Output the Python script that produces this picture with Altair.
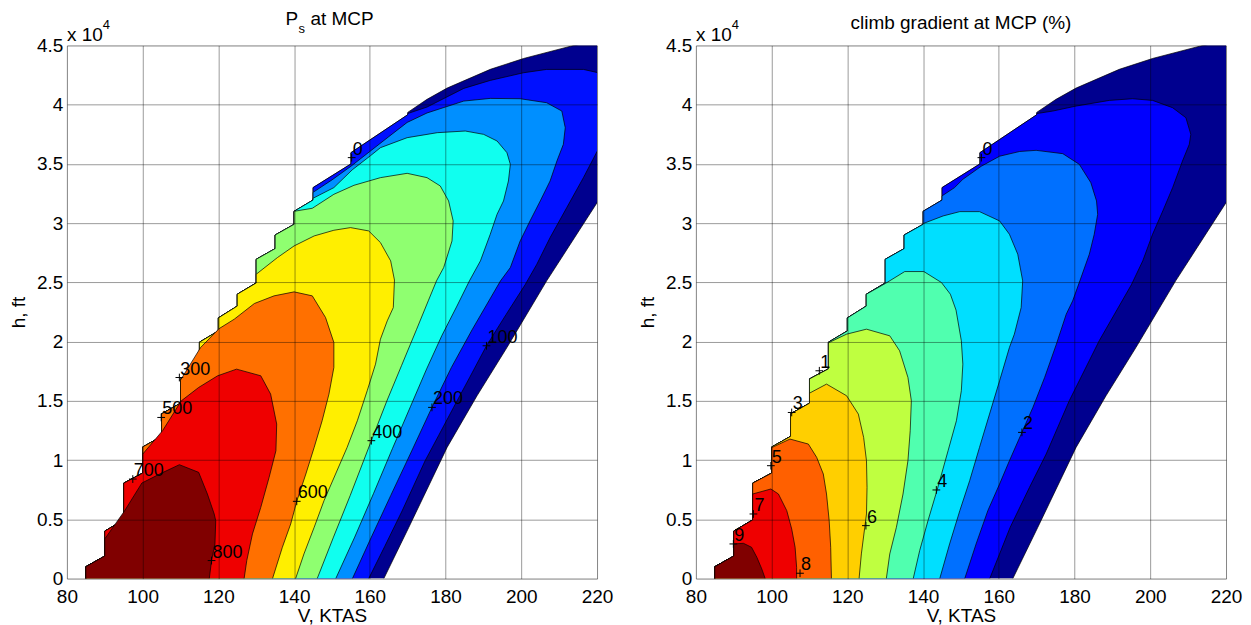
import altair as alt
import pandas as pd

FONT = "Liberation Sans"

# ---------------- shared flight envelope (V in KTAS, h in ft) ----------------
# left staircase + top edge
ENV_V = [85, 85, 90, 90, 95, 95, 100, 100, 105, 105, 110, 110, 115, 115, 120, 120,
         125, 125, 130, 130, 135, 135, 140, 140, 145, 145, 155, 155, 170, 170,
         175.1, 180.4, 191.8, 200.6, 213.8, 228]
ENV_H = [0, 1000, 1900, 4000, 4950, 8050, 8900, 11100, 12000, 13900, 14800, 16850,
         17700, 19950, 20900, 22000, 23000, 24000, 24950, 26950, 27850, 29000, 29900,
         31000, 31950, 33000, 35000, 35950, 39150, 39350, 40450, 41400, 42980, 43900,
         45000, 45800]
# zero contour (right edge of the filled area), top-right down to h = 0
EDGE_V = [228, 220.3, 206.7, 196.2, 188.3, 180.4, 170.3, 163.7]
EDGE_H = [35700, 31870, 25130, 19500, 15430, 11070, 4330, 0]

# ---------------- left panel: Ps at MCP ----------------
PS_COLORS = ["#00008F", "#0010FF", "#008FFF", "#10FFEF", "#8FFF70",
             "#FFEF00", "#FF7000", "#EF0000", "#800000"]
PS100_V = [170, 175.1, 184.8, 191.8, 200.6, 206.7, 216.4, 220.3, 224, 225.5, 224, 220.3,
           216.4, 212.0, 207.6, 204.1, 201.0, 196.0, 190.8, 186.4, 182.1, 178.2, 174.6,
           168.5, 163.9, 159.7]
PS100_H = [39250, 39800, 41374, 42048, 42695, 42976, 42976, 42695, 41500, 39500, 37300,
           36230, 33841, 31311, 28781, 26533, 24800, 22300, 19650, 17000, 14444, 12100,
           9950, 5700, 2700, 0]
PS200_V = [145, 150, 155, 160, 165, 169.85, 175.1, 184.8, 191.8, 199.7, 206.7, 210.7,
           211.6, 211.1, 209.4, 207.6, 205.0, 202.3, 199.7, 197.1, 194.5, 187.0, 181.5,
           176.4, 170.8, 165.5, 160.4, 155.4]
PS200_H = [32600, 33650, 34800, 36050, 37300, 38500, 39300, 40305, 40530, 40502, 40165,
           39462, 38057, 36652, 35246, 33560, 31873, 30187, 28500, 26252, 25128, 21000,
           17800, 14450, 10600, 7000, 3500, 0]
PS300_V = [145, 150.5, 155.35, 160.2, 162.8, 169.85, 177.8, 185.2, 190.05, 193.6, 196.2,
           197.1, 196.6, 195.3, 193.6, 191.8, 189.2, 186.3, 183, 179, 175, 170.7, 166,
           161, 156, 151]
PS300_H = [32100, 33000, 34500, 35700, 36370, 37214, 37636, 37776, 37495, 36933, 35949,
           34965, 33560, 31873, 30749, 29063, 26814, 25128, 23000, 20500, 17700, 14500,
           11000, 7200, 3500, 0]
PS400_V = [140, 144.8, 150.5, 155.8, 162.8, 169.85, 175.1, 178.6, 180.8, 182.0, 181.7,
           179.5, 177.6, 175.5, 172.3, 168.4, 164.5, 160.4, 154.8, 150.4, 146.1]
PS400_H = [31000, 31255, 32435, 33194, 33841, 34206, 33841, 33138, 31873, 30187, 28500,
           26252, 25128, 23500, 21000, 18000, 15000, 11640, 7000, 3500, 0]
PS500_V = [130, 135.6, 140, 145.3, 150.5, 154.9, 159.7, 162.8, 165.5, 166.5, 166.2,
           164.6, 162.8, 161.5, 159.3, 156.7, 154.0, 150.95, 147.9, 145.3, 142.6, 140.4]
PS500_H = [25690, 27095, 28079, 28922, 29400, 29625, 29344, 28360, 26814, 25200, 22879,
           21755, 20209, 18101, 15852, 13323, 11074, 8825, 6577, 4329, 2080, 0]
PS600_V = [110, 115.3, 120.2, 124.2, 129.5, 134.7, 140, 144.8, 148.3, 150.5, 150.5, 149.2,
           147.4, 145.3, 143.1, 140.7, 139.1, 136.9, 134.3]
PS600_H = [16750, 19500, 21100, 21895, 23216, 23863, 24200, 23863, 22036, 19928, 17820,
           15571, 13323, 11074, 8826, 6521, 4610, 2642, 0]
PS700_V = [100, 105.3, 110.2, 114.8, 119.8, 124.8, 131.2, 133.8, 135.4, 135.2, 133.4,
           131.2, 129.0, 127.5, 126.8]
PS700_H = [10500, 12500, 15000, 16133, 17117, 17679, 17117, 15571, 13042, 10793, 8545,
           6015, 3766, 1518, 0]
PS800_V = [90, 95.2, 99.8, 104.85, 109.7, 114.8, 117.1, 118.9, 119.3, 119.1, 118.2, 117.6]
PS800_H = [3350, 5700, 8067, 8882, 9613, 8966, 7139, 5453, 4890, 2923, 1518, 0]
PS_LAB_V = [155.2, 190.8, 176.4, 109.7, 160.4, 104.9, 140.7, 97.4, 118.2]
PS_LAB_H = [35530, 19650, 14450, 16970, 11640, 13600, 6520, 8400, 1520]
PS_LAB_T = ["0", "100", "200", "300", "400", "500", "600", "700", "800"]

# ---------------- right panel: climb gradient at MCP (%) ----------------
CG_COLORS = ["#00008F", "#0000FF", "#0070FF", "#00DFFF", "#50FFAF",
             "#BFFF40", "#FFCF00", "#FF6000", "#EF0000", "#800000"]
CG1_V = [170, 174.25, 180.4, 189.2, 195.3, 200.6, 205.9, 209.4, 210.7, 210.3, 208.5,
         205.9, 203.3, 200.6, 198.0, 195.0, 186.5, 178.6, 172.5, 168.1, 163.0, 157.6]
CG1_H = [39250, 39462, 39884, 40361, 40502, 40361, 39743, 38900, 37495, 36652, 35246,
         32998, 31030, 29063, 26814, 24800, 20069, 15009, 10512, 7701, 4329, 0]
CG2_V = [145, 148.3, 150.5, 155.35, 160.2, 165.5, 169.85, 176.9, 181.25, 184.3, 185.8,
         186.1, 185.2, 183.9, 181.4, 179.5, 177.8, 175.2, 172.1, 169.0, 166.1, 162.8,
         160.2, 157.1, 154.0, 151.0]
CG2_H = [32300, 33000, 33700, 34800, 35650, 36050, 36146, 35865, 34965, 33419, 31873,
         30749, 29063, 27376, 25128, 23441, 22317, 19787, 16977, 14447, 12340, 9950,
         7982, 5734, 2923, 0]
CG3_V = [140, 145.3, 149.7, 154.9, 160.2, 162.8, 165.0, 166.3, 165.9, 164.1, 162.8,
         160.2, 157.55, 154.9, 152.3, 149.7, 147.0, 144.4]
CG3_H = [29962, 30609, 30974, 30974, 30187, 29063, 27376, 25128, 22879, 20630, 19506,
         16696, 13885, 11074, 8263, 5734, 2923, 0]
CG4_V = [130, 135.15, 140.2, 144.85, 147.2, 148.7, 150.1, 150.5, 150.1, 148.8, 146.6,
         143.7, 141.3, 139.1, 137.4]
CG4_H = [24900, 25915, 25915, 24987, 24003, 22660, 20069, 18101, 15852, 13323, 10793,
         7476, 4891, 2361, 0]
CG5_V = [115, 119.8, 125.05, 131.2, 133.8, 136.0, 136.9, 136.6, 136.0, 134.7, 132.95,
         131.2, 130.3]
CG5_H = [19900, 20630, 21052, 20490, 19225, 16977, 15009, 12480, 9950, 7139, 4329, 2080, 0]
CG6_V = [110, 114.5, 119.8, 122.9, 124.3, 125.05, 125.2, 125.05, 124.6, 123.7, 123.1]
CG6_H = [15650, 16415, 15431, 13885, 11917, 9950, 7701, 5453, 4329, 2080, 0]
CG7_V = [100, 104.85, 109.7, 111.9, 113.65, 114.5, 115.2, 115.6, 115.8]
CG7_H = [11050, 11777, 11355, 10231, 8826, 7139, 4891, 2642, 0]
CG8_V = [95, 99.8, 101.8, 104.0, 105.3, 106.2, 106.6, 106.6]
CG8_H = [7139, 7561, 7139, 5734, 4188, 2642, 956, 0]
CG9_V = [90, 92.55, 94.7, 96.1, 97.4, 98.3]
CG9_H = [2923, 2979, 2642, 1799, 815, 0]
CG_LAB_V = [155.4, 112.6, 166.1, 105.3, 143.5, 99.8, 124.9, 95.2, 107.5, 89.9]
CG_LAB_H = [35530, 17540, 12340, 14020, 7480, 9528, 4469, 5453, 450, 2923]
CG_LAB_T = ["0", "1", "2", "3", "4", "5", "6", "7", "8", "9"]

X_TICKS = [80, 100, 120, 140, 160, 180, 200, 220]
Y_TICKS = [0, 5000, 10000, 15000, 20000, 25000, 30000, 35000, 40000, 45000]

W, H = 531, 534
PLUS = "M-1,0L1,0M0,-1L0,1"
FS = 19

XS = alt.Scale(domain=[80, 220], nice=False, zero=False)
YS = alt.Scale(domain=[0, 45000], nice=False, zero=False)
common_axis = dict(grid=True, ticks=False, domain=False, gridColor="black",
                   gridOpacity=0.4, gridWidth=1, labelFont=FONT, labelFontSize=FS,
                   labelColor="black", titleFont=FONT, titleFontSize=FS,
                   titleFontWeight="normal", titleColor="black", zindex=1,
                   labelOverlap=False, labelFlush=False)
XAX = alt.Axis(values=X_TICKS, title="V, KTAS", labelPadding=9, titlePadding=0, **common_axis)
YAX = alt.Axis(values=Y_TICKS, title="h, ft", labelExpr="'' + datum.value / 10000",
               labelPadding=4, titlePadding=8, **common_axis)


def enc_xy():
    return dict(x=alt.X("V:Q", scale=XS, axis=XAX), y=alt.Y("h:Q", scale=YS, axis=YAX))


def polygon(vs, hs):
    return pd.DataFrame({"V": vs, "h": hs, "i": list(range(len(vs)))})


def region(cv, ch):
    pre = [(v, h) for v, h in zip(ENV_V, ENV_H) if h < ch[0]]
    vs = [p[0] for p in pre] + list(cv)
    hs = [p[1] for p in pre] + list(ch)
    return polygon(vs, hs)


def band(df, color):
    return alt.Chart(df).mark_line(fill=color, stroke="black", strokeWidth=0.7,
                                   clip=True, strokeJoin="round").encode(
        order="i:Q", **enc_xy())


ANN = pd.DataFrame({"k": [0]})


def note(txt, x, y, size=FS, align="left"):
    return alt.Chart(ANN).mark_text(text=txt, align=align, baseline="alphabetic",
                                    fontSize=size, font=FONT, color="black").encode(
        x=alt.value(x), y=alt.value(y))


def panel(colors, contours, lv, lh, lt, notes):
    layers = [band(polygon(ENV_V + EDGE_V, ENV_H + EDGE_H), colors[0])]
    for (cv, ch), col in zip(contours, colors[1:]):
        layers.append(band(region(cv, ch), col))
    lab = pd.DataFrame({"V": lv, "h": lh, "t": lt})
    layers.append(alt.Chart(lab).mark_point(shape=PLUS, size=60, filled=False,
                                            stroke="black", strokeWidth=1,
                                            opacity=1).encode(**enc_xy()))
    layers.append(alt.Chart(lab).mark_text(align="left", baseline="alphabetic", dx=1,
                                           dy=-3, fontSize=18, font=FONT,
                                           color="black").encode(text="t:N", **enc_xy()))
    layers += notes
    return alt.layer(*layers).properties(width=W, height=H)


left = panel(PS_COLORS,
             [(PS100_V, PS100_H), (PS200_V, PS200_H), (PS300_V, PS300_H),
              (PS400_V, PS400_H), (PS500_V, PS500_H), (PS600_V, PS600_H),
              (PS700_V, PS700_H), (PS800_V, PS800_H)],
             PS_LAB_V, PS_LAB_H, PS_LAB_T,
             [note("P", 219, -20), note("s", 232, -12, 13), note("at MCP", 244, -20),
              note("x 10", 0, -4), note("4", 36, -16, 13)])

right = panel(CG_COLORS,
              [(CG1_V, CG1_H), (CG2_V, CG2_H), (CG3_V, CG3_H), (CG4_V, CG4_H),
               (CG5_V, CG5_H), (CG6_V, CG6_H), (CG7_V, CG7_H), (CG8_V, CG8_H),
               (CG9_V, CG9_H)],
              CG_LAB_V, CG_LAB_H, CG_LAB_T,
              [note("climb gradient at MCP (%)", 265.5, -16, align="center"),
               note("x 10", 0, -4), note("4", 36, -16, 13)])

chart = alt.hconcat(left, right, spacing=99, bounds="flush").properties(
    padding={"left": 1, "top": 1, "right": 0, "bottom": 0}
).configure_view(stroke="black", strokeWidth=1.2).configure(font=FONT)

chart.save("out.html", embed_options={"renderer": "svg", "actions": False})
